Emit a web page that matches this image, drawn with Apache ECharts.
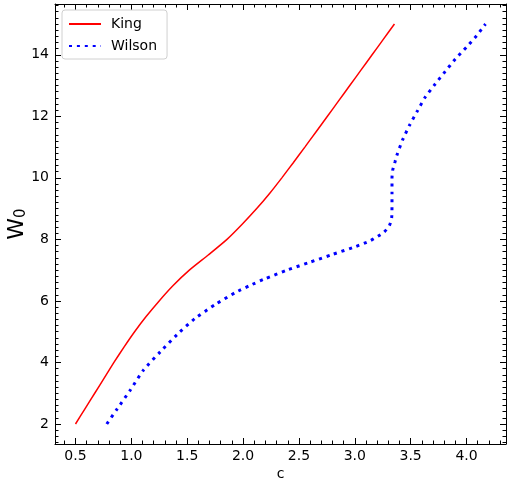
<!DOCTYPE html>
<html>
<head>
<meta charset="utf-8">
<script src="https://cdn.jsdelivr.net/npm/echarts@6/dist/echarts.min.js"></script>
<style>
html,body{margin:0;padding:0;background:#fff;}
#chart{width:509px;height:480px;}
</style>
</head>
<body>
<div id="chart"></div>
<script>
// ---- data ----
var kingW = [2, 2.5, 3, 3.5, 4, 4.5, 5, 5.5, 6, 6.5, 7, 7.5, 8, 8.5, 9, 9.5, 10, 10.5, 11, 11.5, 12, 12.5, 13, 13.5, 14, 14.5, 15];
var kingC = [0.500, 0.586, 0.672, 0.758, 0.844, 0.934, 1.029, 1.134, 1.249, 1.374, 1.519, 1.691, 1.856, 1.994, 2.122, 2.239, 2.347, 2.451, 2.553, 2.654, 2.755, 2.855, 2.955, 3.055, 3.155, 3.255, 3.355];
var wilsonC = [0.78, 0.875, 0.99, 1.11, 1.26, 1.41, 1.57, 1.75, 1.93, 2.06, 2.19, 2.40, 2.60, 2.80, 3.01, 3.14, 3.26, 3.31, 3.33, 3.333, 3.333, 3.333, 3.34, 3.36, 3.38, 3.43, 3.49, 3.56, 3.63, 3.72, 3.81, 3.90, 4.00, 4.09, 4.17];
var wilsonW = [2.0, 2.5, 3.1, 3.76, 4.35, 4.91, 5.43, 5.88, 6.27, 6.5, 6.71, 7.01, 7.26, 7.51, 7.77, 7.96, 8.23, 8.45, 8.7, 9.2, 9.5, 10.0, 10.26, 10.52, 10.77, 11.25, 11.71, 12.17, 12.62, 13.05, 13.46, 13.86, 14.25, 14.62, 15.0];
var xTicks = [0.5, 1.0, 1.5, 2.0, 2.5, 3.0, 3.5, 4.0];
var yTicks = [2, 4, 6, 8, 10, 12, 14];
var seriesNames = ['King', 'Wilson'];

// ---- ranges (matplotlib-like 5% margins) ----
var allC = kingC.concat(wilsonC), allW = kingW.concat(wilsonW);
var cMin = Math.min.apply(null, allC), cMax = Math.max.apply(null, allC);
var wMin = Math.min.apply(null, allW), wMax = Math.max.apply(null, allW);
var xMin = cMin - 0.05 * (cMax - cMin), xMax = cMax + 0.05 * (cMax - cMin);
var yMin = wMin - 0.05 * (wMax - wMin), yMax = wMax + 0.05 * (wMax - wMin);

function minorVals(lo, hi, step) {
  var out = [];
  var start = Math.ceil(lo / step - 1e-9);
  for (var k = start; k * step <= hi + 1e-9; k++) out.push(+(k * step).toFixed(4));
  return out;
}
var xMinor = minorVals(xMin, xMax, 0.1);
var yMinor = minorVals(yMin, yMax, 0.2);

function mkPair(a, b) { return a.map(function (v, i) { return [v, b[i]]; }); }

var FONT = 'DejaVu Sans';
function axis(dim, pos, major, showLabel, showLine, vals, len, extra) {
  var o = {
    type: 'value', position: pos,
    min: dim === 'x' ? xMin : yMin, max: dim === 'x' ? xMax : yMax,
    axisLine: { show: showLine, onZero: false, lineStyle: { color: '#000', width: 1 } },
    axisTick: { show: true, inside: true, length: len, customValues: vals, lineStyle: { color: '#000', width: 1 } },
    axisLabel: { show: showLabel, customValues: vals, color: '#000', fontFamily: FONT, fontSize: 14, margin: dim === 'x' ? 5 : 6,
      formatter: function (v) { return dim === 'x' ? v.toFixed(1) : String(v); } },
    splitLine: { show: false }
  };
  for (var k in extra) o[k] = extra[k];
  return o;
}

var chart = echarts.init(document.getElementById('chart'), null, { renderer: 'canvas' });
chart.setOption({
  animation: false,
  backgroundColor: '#fff',
  grid: { left: 55, right: 3, top: 4, bottom: 36, containLabel: false, outerBoundsMode: 'none' },
  legend: {
    left: 62, top: 10, orient: 'vertical',
    data: seriesNames,
    itemWidth: 32, itemHeight: 14, itemGap: 8,
    padding: [7, 10, 6, 6],
    borderColor: '#d0d0d0', borderWidth: 1, borderRadius: 3,
    backgroundColor: 'rgba(255,255,255,0.8)',
    itemStyle: { opacity: 0 },
    textStyle: { fontFamily: FONT, fontSize: 14, color: '#000', padding: [0, 0, 0, 5] }
  },
  xAxis: [
    axis('x', 'bottom', true, true, true, xTicks, 6, { name: 'c', nameLocation: 'middle', nameGap: 23, nameMoveOverlap: false,
      nameTextStyle: { fontFamily: FONT, fontSize: 14, color: '#000' } }),
    axis('x', 'bottom', false, false, false, xMinor, 3.5, {}),
    axis('x', 'top', true, false, true, xTicks, 6, {}),
    axis('x', 'top', false, false, false, xMinor, 3.5, {})
  ],
  yAxis: [
    axis('y', 'left', true, true, true, yTicks, 6, { name: '{w|W}{s|0}', nameLocation: 'middle', nameGap: 26, nameMoveOverlap: false,
      nameTextStyle: { fontFamily: FONT, color: '#000', rich: {
        w: { fontFamily: FONT, fontSize: 22, color: '#000' },
        s: { fontFamily: FONT, fontSize: 15, color: '#000', padding: [9, 0, 0, 0] } } } }),
    axis('y', 'left', false, false, false, yMinor, 3.5, {}),
    axis('y', 'right', true, false, true, yTicks, 6, {}),
    axis('y', 'right', false, false, false, yMinor, 3.5, {})
  ],
  series: [
    { name: seriesNames[0], type: 'line', xAxisIndex: 0, yAxisIndex: 0, data: mkPair(kingC, kingW),
      showSymbol: false, symbol: 'none', smooth: 0.2,
      lineStyle: { color: '#ff0000', width: 1.5 }, itemStyle: { color: '#ff0000' } },
    { name: seriesNames[1], type: 'line', xAxisIndex: 0, yAxisIndex: 0, data: mkPair(wilsonC, wilsonW),
      showSymbol: false, symbol: 'none', smooth: 0.2,
      lineStyle: { color: '#0000ff', width: 3, type: [3, 4.9], cap: 'butt' }, itemStyle: { color: '#0000ff' } }
  ]
});
</script>
</body>
</html>
